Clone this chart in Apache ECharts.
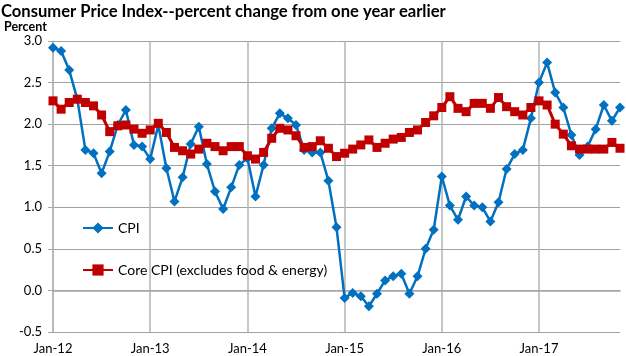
<!DOCTYPE html>
<html>
<head>
<meta charset="utf-8">
<script src="https://cdn.jsdelivr.net/npm/echarts@6/dist/echarts.min.js"></script>
<style>html,body{margin:0;padding:0;background:#fff}#c{width:626px;height:356px}</style>
</head>
<body>
<div id="c"></div>
<script>
var months = ['Jan','Feb','Mar','Apr','May','Jun','Jul','Aug','Sep','Oct','Nov','Dec'];
var years = ['12','13','14','15','16','17'];
var lastYearMonths = 11;
var yTicks = [-0.5, 0.0, 0.5, 1.0, 1.5, 2.0, 2.5, 3.0];

var cpi = [
  2.92, 2.88, 2.65, 2.30, 1.69, 1.65, 1.41, 1.67, 1.99, 2.17, 1.75, 1.73,
  1.58, 1.99, 1.47, 1.07, 1.36, 1.76, 1.97, 1.52, 1.19, 0.98, 1.24, 1.51,
  1.59, 1.13, 1.51, 1.95, 2.13, 2.07, 1.99, 1.69, 1.66, 1.66, 1.32, 0.76,
  -0.09, -0.03, -0.07, -0.19, -0.04, 0.12, 0.17, 0.20, -0.04, 0.17, 0.50, 0.73,
  1.37, 1.02, 0.85, 1.13, 1.02, 1.00, 0.83, 1.06, 1.46, 1.64, 1.69, 2.07,
  2.50, 2.74, 2.38, 2.20, 1.87, 1.63, 1.73, 1.94, 2.23, 2.04, 2.20
];
var core = [
  2.28, 2.18, 2.26, 2.30, 2.26, 2.22, 2.11, 1.91, 1.98, 1.99, 1.94, 1.89,
  1.93, 2.01, 1.90, 1.72, 1.68, 1.64, 1.70, 1.77, 1.73, 1.68, 1.73, 1.73,
  1.62, 1.58, 1.66, 1.83, 1.95, 1.93, 1.86, 1.72, 1.73, 1.80, 1.71, 1.61,
  1.65, 1.70, 1.75, 1.81, 1.72, 1.77, 1.82, 1.84, 1.90, 1.93, 2.02, 2.10,
  2.20, 2.33, 2.19, 2.15, 2.25, 2.25, 2.19, 2.32, 2.21, 2.15, 2.11, 2.20,
  2.28, 2.23, 2.00, 1.88, 1.74, 1.70, 1.70, 1.70, 1.70, 1.78, 1.71
];

var categories = [];
years.forEach(function (y, i) {
  var n = (i === years.length - 1) ? lastYearMonths : 12;
  for (var m = 0; m < n; m++) categories.push(months[m] + '-' + y);
});

var FONT = 'Lato';
var chart = echarts.init(document.getElementById('c'), null, {renderer: 'canvas'});
chart.setOption({
  animation: false,
  backgroundColor: '#ffffff',
  title: [
    {text: 'Consumer Price Index--percent change from one year earlier', left: 1, top: 3, padding: 0,
     textStyle: {fontFamily: FONT, fontWeight: 'bold', fontSize: 16.6, color: '#000'}},
    {text: 'Percent', left: 4, top: 20, padding: 0,
     textStyle: {fontFamily: FONT, fontWeight: 'bold', fontSize: 12.5, color: '#000'}}
  ],
  legend: {
    orient: 'vertical', left: 82, top: 221, padding: 0, itemWidth: 30, itemHeight: 14, itemGap: 28,
    textStyle: {fontFamily: FONT, fontSize: 14, color: '#000'},
    data: ['CPI', 'Core CPI (excludes food & energy)']
  },
  grid: {left: 53, right: 6, top: 41, bottom: 24, containLabel: false},
  xAxis: {
    type: 'category', data: categories, boundaryGap: false,
    axisLine: {show: true, lineStyle: {color: '#a6a6a6', width: 1.5}},
    axisTick: {show: false},
    axisLabel: {interval: 11, color: '#000', fontFamily: FONT, fontSize: 13, margin: 10},
    splitLine: {show: true, interval: 11, lineStyle: {color: '#b4b4b4', width: 1.5}}
  },
  yAxis: {
    type: 'value', min: yTicks[0], max: yTicks[yTicks.length - 1], interval: 0.5,
    axisLine: {show: true, lineStyle: {color: '#b4b4b4', width: 1.5}},
    axisTick: {show: true, length: 5, lineStyle: {color: '#a6a6a6'}},
    axisLabel: {color: '#000', fontFamily: FONT, fontSize: 13, margin: 11,
      formatter: function (v) { return v.toFixed(1); }},
    splitLine: {show: true, lineStyle: {color: '#a0a0a0', width: 1}}
  },
  series: [
    {name: 'CPI', type: 'line', data: cpi, symbol: 'diamond', symbolSize: 10,
     showAllSymbol: true, color: '#0070C0',
     lineStyle: {color: '#0070C0', width: 2.5}, itemStyle: {color: '#0070C0'}, z: 2},
    {name: 'Core CPI (excludes food & energy)', type: 'line', data: core, symbol: 'rect', symbolSize: 9,
     showAllSymbol: true, color: '#C00000',
     lineStyle: {color: '#C00000', width: 3}, itemStyle: {color: '#C00000'}, z: 3}
  ]
});
</script>
</body>
</html>
